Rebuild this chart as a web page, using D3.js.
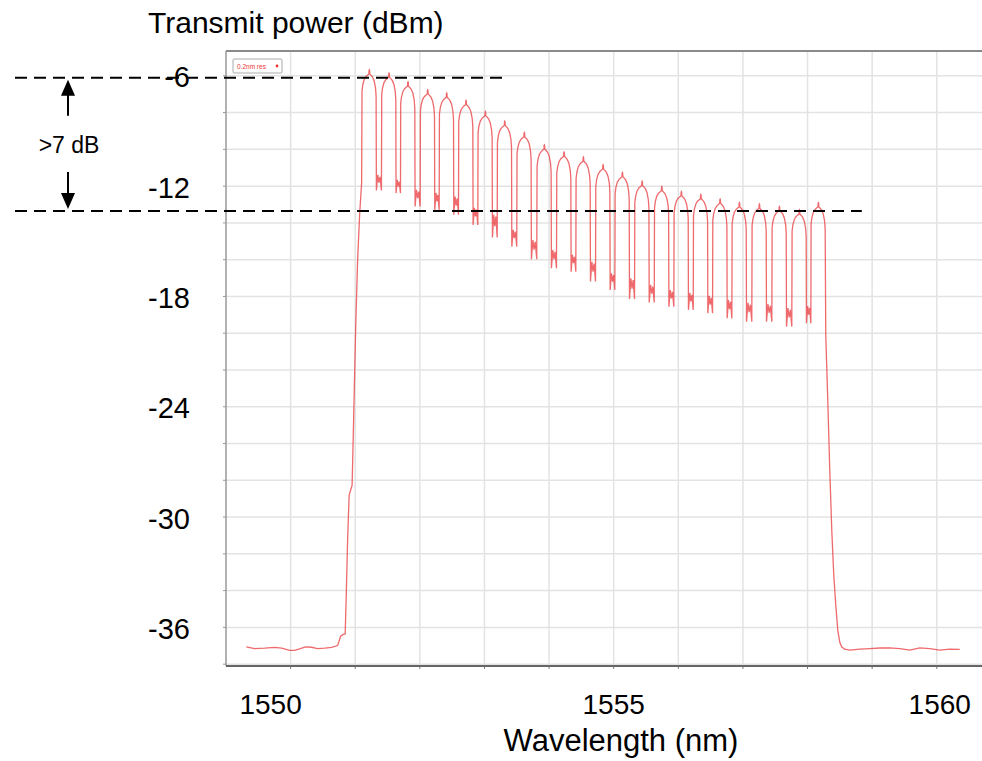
<!DOCTYPE html>
<html><head>
<meta charset="utf-8">
<title>Transmit power vs wavelength</title>
<script src="https://cdn.jsdelivr.net/npm/d3@7"></script>
<style>
  body { margin: 0; background: #fff; }
  text { font-family: "Liberation Sans", Arial, sans-serif; fill: #000; }
</style>
</head>
<body>
<svg id="chart" width="982" height="761"></svg>
<script>

// ---- data ----
// channel centres (nm) and their peak power (dBm)
const channelWl = [1551.218, 1551.523, 1551.817, 1552.122, 1552.416, 1552.715, 1553.014, 1553.314,
                   1553.617, 1553.927, 1554.232, 1554.531, 1554.836, 1555.135, 1555.440, 1555.745,
                   1556.048, 1556.348, 1556.647, 1556.946, 1557.255, 1557.565, 1557.874, 1558.168];
const peakDbm = [-5.67, -5.85, -6.33, -6.76, -6.94, -7.34, -7.94, -8.47,
                 -9.09, -9.76, -10.15, -10.42, -10.84, -11.26, -11.74, -12.02,
                 -12.30, -12.46, -12.71, -12.90, -12.98, -13.11, -13.29, -12.90];
// the gaps between neighbouring channels (upper and lower level of the "M")
const troughTopDbm = [-11.39, -11.66, -12.20, -12.37, -12.57, -13.18, -13.56, -14.38, -14.93, -15.47, -15.74, -16.11,
                      -16.74, -17.01, -17.37, -17.65, -17.81, -17.97, -18.19, -18.35, -18.41, -18.63, -18.52];
const troughBotDbm = [-12.24, -12.38, -13.11, -13.29, -13.56, -14.11, -14.79, -15.29, -15.98, -16.47, -16.65, -17.19,
                      -17.65, -18.14, -18.33, -18.56, -18.73, -18.91, -19.19, -19.37, -19.37, -19.64, -19.46];
// shape of one channel lobe: [offset from centre nm, dB below peak]
const lobeShape = [[-0.113, -1.15], [-0.1, -0.8], [-0.078, -0.52], [-0.05, -0.36], [-0.024, -0.28],
                   [-0.007, -0.23], [-0.004, -0.03], [0, 0], [0.004, -0.03], [0.007, -0.23],
                   [0.024, -0.29], [0.05, -0.4], [0.076, -0.62], [0.096, -1.0], [0.105, -1.45]];
// noise floor and the filter edges [nm, dBm]
const leftFloor = [[1549.314, -37.06], [1549.443, -37.15], [1549.598, -37.13], [1549.752, -37.09], [1549.861, -37.13],
                   [1549.985, -37.25], [1550.062, -37.25], [1550.139, -37.17], [1550.232, -37.06], [1550.325, -37.08],
                   [1550.418, -37.15], [1550.526, -37.13], [1550.635, -37.09], [1550.728, -36.99], [1550.774, -36.48],
                   [1550.820, -36.37]];
const riseEdge = [[1550.844, -36.37], [1550.859, -34.52], [1550.882, -31.25], [1550.906, -28.80], [1550.929, -28.53],
                  [1550.952, -28.26], [1550.975, -24.72], [1551.006, -19.82], [1551.037, -16.01], [1551.068, -13.56],
                  [1551.099, -11.82]];
const fallEdge = [[1558.282, -20.10], [1558.313, -23.63], [1558.344, -27.44], [1558.375, -30.71], [1558.406, -33.16],
                  [1558.437, -34.79], [1558.468, -36.15], [1558.498, -36.80], [1558.529, -37.07], [1558.576, -37.18]];
const rightFloor = [[1558.653, -37.24], [1558.808, -37.18], [1558.963, -37.15], [1559.118, -37.12], [1559.272, -37.11],
                    [1559.427, -37.15], [1559.582, -37.24], [1559.737, -37.11], [1559.892, -37.15], [1560.046, -37.24],
                    [1560.201, -37.18], [1560.356, -37.20]];

const yLabels = [-6, -12, -18, -24, -30, -36];
const xLabels = [1550, 1555, 1560];
// dashed reference lines: level (dBm) and where they stop (nm)
const refLines = [{ dbm: -6.1, toWl: 1553.35 }, { dbm: -13.35, toWl: 1558.84 }];

// ---- layout ----
const svg = d3.select("#chart");
const plot = { left: 226, right: 982, top: 51, bottom: 666 };

const x = d3.scaleLinear().domain([1549, 1560.7]).range([plot.left, plot.right]);
const y = d3.scaleLinear().domain([-38.1, -4.65]).range([plot.bottom, plot.top]);

// grid
const grid = svg.append("g");
grid.selectAll(".vg").data(d3.range(1550, 1561)).enter().append("line")
    .attr("x1", d => x(d)).attr("x2", d => x(d))
    .attr("y1", plot.top).attr("y2", plot.bottom)
    .style("stroke", "#e3e3e3").style("stroke-width", 1.5);
grid.selectAll(".hg").data(d3.range(-38, -5, 2)).enter().append("line")
    .attr("x1", plot.left).attr("x2", plot.right)
    .attr("y1", d => y(d)).attr("y2", d => y(d))
    .style("stroke", "#e3e3e3").style("stroke-width", 1.5);

// small ticks on the frame
grid.selectAll(".xt").data(d3.range(1550, 1561)).enter().append("line")
    .attr("x1", d => x(d)).attr("x2", d => x(d))
    .attr("y1", plot.bottom).attr("y2", plot.bottom + 3)
    .style("stroke", "#777");
grid.selectAll(".yt").data(d3.range(-38, -5, 2)).enter().append("line")
    .attr("x1", plot.left - 3).attr("x2", plot.left)
    .attr("y1", d => y(d)).attr("y2", d => y(d))
    .style("stroke", "#999");

// frame
svg.append("line").attr("x1", plot.left).attr("x2", plot.right).attr("y1", plot.top).attr("y2", plot.top)
    .style("stroke", "#8a8a8a").style("stroke-width", 2);
svg.append("line").attr("x1", plot.left).attr("x2", plot.left).attr("y1", plot.top).attr("y2", plot.bottom)
    .style("stroke", "#999").style("stroke-width", 1.5);
svg.append("line").attr("x1", plot.left).attr("x2", plot.right).attr("y1", plot.bottom).attr("y2", plot.bottom)
    .style("stroke", "#666").style("stroke-width", 2);

// legend box of the analyser
const leg = svg.append("g").attr("transform", "translate(" + (plot.left + 7) + "," + (plot.top + 8) + ")");
leg.append("rect").attr("width", 49).attr("height", 14).attr("rx", 1)
    .style("fill", "#fff").style("stroke", "#aaa");
leg.append("text").attr("x", 4).attr("y", 10).text("0.2nm res")
    .style("font-size", "6.5px").style("fill", "#e33");
leg.append("circle").attr("cx", 44).attr("cy", 7).attr("r", 1.4).style("fill", "#e33");

// ---- build the trace ----
let trace = [];
leftFloor.forEach(p => trace.push(p));
riseEdge.forEach(p => trace.push(p));
channelWl.forEach(function(c, i) {
  lobeShape.forEach(s => trace.push([c + s[0], peakDbm[i] + s[1]]));
  if (i < channelWl.length - 1) {
    let xa = c + lobeShape[lobeShape.length - 1][0];
    let xb = channelWl[i + 1] + lobeShape[0][0];
    let g = xb - xa;
    let top = troughTopDbm[i], bot = troughBotDbm[i];
    trace.push([xa + 0.05 * g, bot]);
    trace.push([xa + 0.3 * g, top]);
    trace.push([xa + 0.5 * g, (top + bot) / 2]);
    trace.push([xa + 0.7 * g, top - 0.1]);
    trace.push([xa + 0.95 * g, bot]);
  }
});
fallEdge.forEach(p => trace.push(p));
rightFloor.forEach(p => trace.push(p));

const line = d3.line().x(d => x(d[0])).y(d => y(d[1]));
svg.append("path").datum(trace)
    .attr("d", line)
    .style("fill", "none")
    .style("stroke", "#e8383c")
    .style("stroke-width", 1.3)
    .style("stroke-opacity", 0.75);

// ---- overlay annotations ----
svg.selectAll(".ref").data(refLines).enter().append("line")
    .attr("x1", 15).attr("x2", d => x(d.toWl))
    .attr("y1", d => y(d.dbm)).attr("y2", d => y(d.dbm))
    .style("stroke", "#000").style("stroke-width", 2).style("stroke-dasharray", "12,7");

const arrowX = 68;
const yTop = y(refLines[0].dbm), yBot = y(refLines[1].dbm);
svg.append("line").attr("x1", arrowX).attr("x2", arrowX).attr("y1", yTop + 15).attr("y2", yTop + 38)
    .style("stroke", "#000").style("stroke-width", 2);
svg.append("path").attr("d", `M${arrowX - 7},${yTop + 18}L${arrowX},${yTop + 2}L${arrowX + 7},${yTop + 18}Z`)
    .style("fill", "#000");
svg.append("line").attr("x1", arrowX).attr("x2", arrowX).attr("y1", yBot - 39).attr("y2", yBot - 16)
    .style("stroke", "#000").style("stroke-width", 2);
svg.append("path").attr("d", `M${arrowX - 7},${yBot - 18}L${arrowX},${yBot - 2}L${arrowX + 7},${yBot - 18}Z`)
    .style("fill", "#000");
svg.append("text").attr("x", arrowX + 1).attr("y", (yTop + yBot) / 2 + 1).attr("dy", "0.35em")
    .attr("text-anchor", "middle").style("font-size", "23px").text(">7 dB");

// axis labels
svg.selectAll(".yl").data(yLabels).enter().append("text")
    .attr("x", 190).attr("y", d => y(d) + 1).attr("dy", "0.36em")
    .attr("text-anchor", "end").style("font-size", "29px").text(d => d);
svg.selectAll(".xl").data(xLabels).enter().append("text")
    .attr("x", d => x(d) + (d === 1550 ? -20 : d === 1560 ? 3 : 0)).attr("y", 714)
    .attr("text-anchor", "middle").style("font-size", "28px").text(d => d);

svg.append("text").attr("x", 148).attr("y", 33).style("font-size", "30px").text("Transmit power (dBm)");
svg.append("text").attr("x", 621).attr("y", 751).attr("text-anchor", "middle")
    .style("font-size", "31px").text("Wavelength (nm)");

</script>
</body>
</html>
